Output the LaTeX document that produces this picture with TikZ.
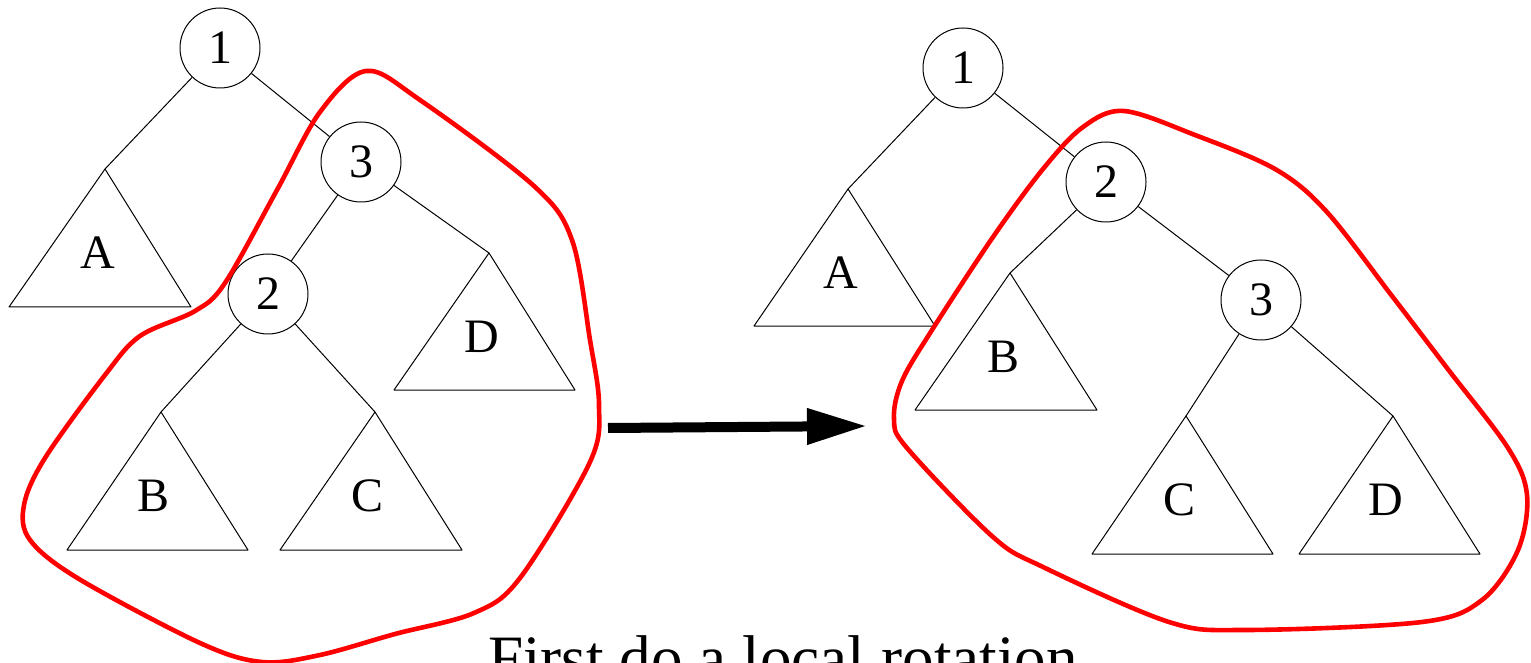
\documentclass[tikz,border=0pt]{standalone}
\usepackage{fontspec}
\setmainfont{Liberation Serif}
\usetikzlibrary{arrows.meta}
\tikzset{
  treenode/.style={draw, circle, minimum size=40pt, inner sep=0pt, line width=0.5pt, font=\fontsize{24}{28}\selectfont},
  treelabel/.style={inner sep=0pt, font=\fontsize{24}{28}\selectfont},
  branch/.style={line width=0.5pt},
  hull/.style={red, line width=2.3pt},
}
\begin{document}
\begin{tikzpicture}[x=0.5pt, y=-0.5pt, line join=round]
    \useasboundingbox (0,0) rectangle (1531,663);

    % Left tree
    \node[treenode] (l1) at (220,48) {1};
    \node[treenode] (l3) at (361,162) {3};
    \node[treenode] (l2) at (268,294) {2};

    \draw[branch] (105,169) coordinate (lA) -- (9,307) -- (191,307) -- cycle;
    \node[treelabel] (lAtext) at (98,253) {A};
    \draw[branch] (489,253) coordinate (lD) -- (394,390) -- (575,390) -- cycle;
    \node[treelabel] (lDtext) at (482,337) {D};
    \draw[branch] (161,412) coordinate (lB) -- (67,550) -- (248,550) -- cycle;
    \node[treelabel] (lBtext) at (154,496) {B};
    \draw[branch] (375,412) coordinate (lC) -- (280,550) -- (462,550) -- cycle;
    \node[treelabel] (lCtext) at (368,496) {C};

    \draw[branch] (l1) -- (lA);
    \draw[branch] (l1) -- (l3);
    \draw[branch] (l3) -- (l2);
    \draw[branch] (l3) -- (lD);
    \draw[branch] (l2) -- (lB);
    \draw[branch] (l2) -- (lC);

    % Right tree
    \node[treenode] (r1) at (963,68) {1};
    \node[treenode] (r2) at (1106,182) {2};
    \node[treenode] (r3) at (1261,300) {3};

    \draw[branch] (848,189) coordinate (rA) -- (754,326) -- (935,326) -- cycle;
    \node[treelabel] (rAtext) at (841,273) {A};
    \draw[branch] (1010,273) coordinate (rB) -- (915,410) -- (1097,410) -- cycle;
    \node[treelabel] (rBtext) at (1003,357) {B};
    \draw[branch] (1186,416) coordinate (rC) -- (1092,554) -- (1273,554) -- cycle;
    \node[treelabel] (rCtext) at (1179,500) {C};
    \draw[branch] (1393,416) coordinate (rD) -- (1299,554) -- (1480,554) -- cycle;
    \node[treelabel] (rDtext) at (1386,500) {D};

    \draw[branch] (r1) -- (rA);
    \draw[branch] (r1) -- (r2);
    \draw[branch] (r2) -- (rB);
    \draw[branch] (r2) -- (r3);
    \draw[branch] (r3) -- (rC);
    \draw[branch] (r3) -- (rD);

    % Red outlines
    \draw[hull] plot[smooth cycle, tension=0.55] coordinates {
      (366,71) (420,100) (534,186) (572,240) (590,340) (599,405) (590,462)
      (520,578) (474,613) (395,634) (320,655) (262,662) (200,643) (79,579) (30,540)
      (24,505) (45,458) (105,375) (140,336) (195,311) (225,283) (277,190) (320,112)};
    \draw[hull] plot[smooth cycle, tension=0.55] coordinates {
      (1124,111) (1195,135) (1275,169) (1326,211) (1392,296) (1447,368) (1508,448)
      (1527,495) (1518,550) (1482,600) (1422,622) (1245,630) (1169,622) (1043,567)
      (993,537) (907,448) (894,419) (902,381) (932,330) (993,237) (1043,169) (1083,127)};

    % Arrow
    \coordinate (from) at (608,428);
    \coordinate (to) at (867,426);
    \draw[line width=5pt, -{Triangle[length=30pt, width=17pt]}] (from) -- (to);

    % Caption
    \node[anchor=base, inner sep=0pt, font=\fontsize{31.6}{36}\selectfont] (caption) at (783,679) {First do a local rotation};
\end{tikzpicture}
\end{document}
